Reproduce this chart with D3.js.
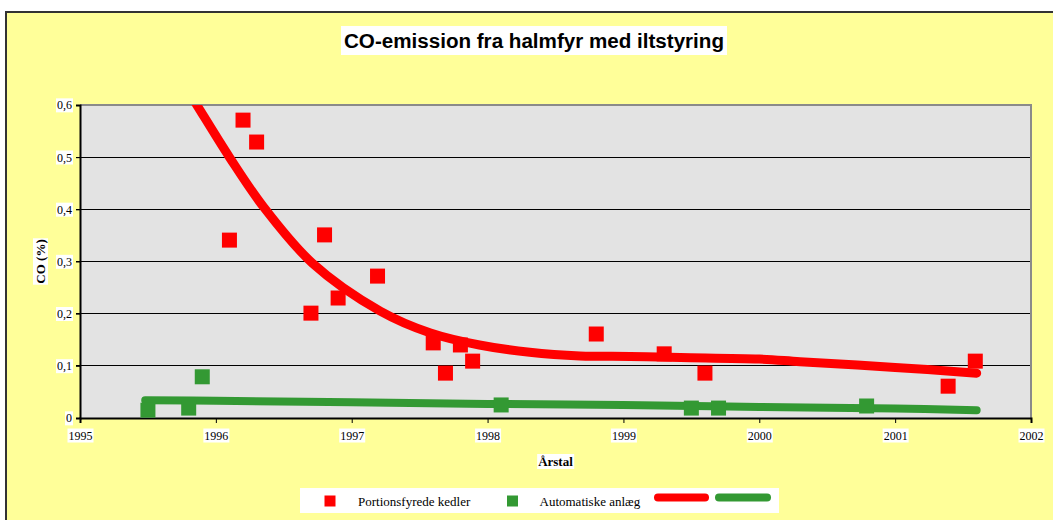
<!DOCTYPE html>
<html><head><meta charset="utf-8">
<script src="https://cdn.jsdelivr.net/npm/d3@7/dist/d3.min.js"></script>
<style>html,body{margin:0;padding:0;background:#fff;}svg{display:block;}</style>
</head><body>
<svg id="chart" width="1053" height="520"></svg>
<script>
// ---- data ----
const titleText = "CO-emission fra halmfyr med iltstyring";
const xLabel = "Årstal";
const yLabel = "CO (%)";
const seriesNames = ["Portionsfyrede kedler", "Automatiske anlæg"];
const xTicks = [1995, 1996, 1997, 1998, 1999, 2000, 2001, 2002];
const yTicks = [0, 0.1, 0.2, 0.3, 0.4, 0.5, 0.6];
const yTickLabels = ["0", "0,1", "0,2", "0,3", "0,4", "0,5", "0,6"];

const portionYears  = [1996.10, 1996.20, 1996.30, 1996.70, 1996.80, 1996.90, 1997.19, 1997.60, 1997.69, 1997.80, 1997.89, 1998.80, 1999.30, 1999.60, 2001.39, 2001.59];
const portionValues = [0.341, 0.571, 0.529, 0.201, 0.351, 0.230, 0.272, 0.144, 0.086, 0.140, 0.109, 0.161, 0.123, 0.086, 0.061, 0.109];

const autoYears  = [1995.50, 1995.80, 1995.90, 1998.10, 1999.50, 1999.70, 2000.79];
const autoValues = [0.015, 0.019, 0.079, 0.025, 0.019, 0.019, 0.023];

// trend lines
const portionTrendYears  = [1995.80, 1995.86, 1996.10, 1996.35, 1996.71, 1997.21, 1997.58, 1997.94, 1998.31, 1998.68, 1999.05, 1999.42, 2000.00, 2000.30, 2001.00, 2001.60];
const portionTrendValues = [0.625, 0.600, 0.500, 0.405, 0.297, 0.205, 0.163, 0.140, 0.126, 0.119, 0.118, 0.116, 0.113, 0.108, 0.097, 0.086];
const autoTrendYears  = [1995.48, 1996.00, 1997.00, 1998.00, 1999.00, 2000.00, 2001.00, 2001.60];
const autoTrendValues = [0.034, 0.033, 0.030, 0.027, 0.025, 0.021, 0.018, 0.015];

// ---- layout ----
const svg = d3.select("#chart");
const W = 1053, H = 520;
const plot = {left: 80, right: 1031, top: 105, bottom: 418};
const RED = "#ff0000", GREEN = "#339933";

const x = d3.scaleLinear().domain([1995, 2002]).range([plot.left, plot.right]);
const y = d3.scaleLinear().domain([0, 0.6]).range([plot.bottom, plot.top]);

// background
svg.append("rect").attr("x", 0).attr("y", 0).attr("width", W).attr("height", H).attr("fill", "#ffffff");
svg.append("rect").attr("x", 6).attr("y", 12).attr("width", W).attr("height", H).attr("fill", "#ffff99");
svg.append("line").attr("x1", 5).attr("x2", W).attr("y1", 12).attr("y2", 12).attr("stroke", "#333").attr("stroke-width", 2);
svg.append("line").attr("x1", 6).attr("x2", 6).attr("y1", 11).attr("y2", H).attr("stroke", "#333").attr("stroke-width", 2);

// title
const tg = svg.append("g");
tg.append("rect").attr("x", 341).attr("y", 26).attr("width", 386).attr("height", 29).attr("fill", "#fff");
tg.append("text").attr("x", 534).attr("y", 47.5).attr("text-anchor", "middle")
  .attr("font-family", "Liberation Sans, Arial, sans-serif").attr("font-weight", "bold")
  .attr("font-size", 20).attr("textLength", 380).attr("lengthAdjust", "spacingAndGlyphs")
  .attr("fill", "#000").text(titleText);

// plot area
svg.append("rect").attr("x", plot.left).attr("y", plot.top).attr("width", plot.right - plot.left)
  .attr("height", plot.bottom - plot.top).attr("fill", "#e3e3e3");

// gridlines
svg.append("g").selectAll("line").data(yTicks.filter(d => d > 0 && d < 0.6)).join("line")
  .attr("x1", plot.left - 4).attr("x2", plot.right).attr("y1", d => y(d)).attr("y2", d => y(d))
  .attr("stroke", "#000").attr("stroke-width", 1).attr("shape-rendering", "crispEdges");

// plot border top/right (gray)
svg.append("path").attr("d", `M${plot.left},${plot.top}H${plot.right}V${plot.bottom}`)
  .attr("fill", "none").attr("stroke", "#8a8a8a").attr("stroke-width", 2);

// axes
const yAxis = d3.axisLeft(y).tickValues(yTicks).tickSize(4).tickFormat((d, i) => yTickLabels[i]);
const gy = svg.append("g").attr("transform", `translate(${plot.left},0)`).style("color", "#000").call(yAxis);
gy.select(".domain").attr("stroke", "#000").attr("stroke-width", 2);
gy.selectAll(".tick line").attr("stroke", "#000");
gy.selectAll(".tick text").attr("font-family", "Liberation Serif, Times New Roman, serif").attr("font-size", 12)
  .attr("fill", "#000").attr("x", -8);

const xAxis = d3.axisBottom(x).tickValues(xTicks).tickSize(5).tickFormat(d3.format("d"));
const gx = svg.append("g").attr("transform", `translate(0,${plot.bottom})`).style("color", "#000").call(xAxis);
gx.select(".domain").attr("stroke", "#000").attr("stroke-width", 2);
gx.selectAll(".tick line").attr("stroke", "#000");
gx.selectAll(".tick text").attr("font-family", "Liberation Serif, Times New Roman, serif").attr("font-size", 12)
  .attr("fill", "#000").attr("y", 13);

// white backgrounds behind tick labels
function addBg(sel) {
  sel.each(function() {
    const b = this.getBBox();
    d3.select(this.parentNode).insert("rect", "text")
      .attr("x", b.x - 1).attr("y", b.y).attr("width", b.width + 2).attr("height", b.height).attr("fill", "#fff");
  });
}
addBg(gy.selectAll(".tick text"));
addBg(gx.selectAll(".tick text"));

// axis titles
const xl = svg.append("text").attr("x", (plot.left + plot.right) / 2).attr("y", 466).attr("text-anchor", "middle")
  .attr("font-family", "Liberation Serif, Times New Roman, serif").attr("font-weight", "bold").attr("font-size", 13)
  .attr("fill", "#000").text(xLabel);
const yl = svg.append("text").attr("transform", `translate(45,${(plot.top + plot.bottom) / 2}) rotate(-90)`)
  .attr("text-anchor", "middle")
  .attr("font-family", "Liberation Serif, Times New Roman, serif").attr("font-weight", "bold").attr("font-size", 13)
  .attr("fill", "#000").text(yLabel);
[xl, yl].forEach(t => {
  const b = t.node().getBBox();
  svg.insert("rect", () => t.node()).attr("x", b.x - 1).attr("y", b.y).attr("width", b.width + 2).attr("height", b.height)
    .attr("fill", "#fff").attr("transform", t.attr("transform"));
});

// clip
svg.append("clipPath").attr("id", "clip").append("rect")
  .attr("x", plot.left).attr("y", plot.top).attr("width", plot.right - plot.left).attr("height", plot.bottom - plot.top);

const line = d3.line().x(d => x(d[0])).y(d => y(d[1])).curve(d3.curveCatmullRom.alpha(0.5));
const pTrend = portionTrendYears.map((d, i) => [d, portionTrendValues[i]]);
const aTrend = autoTrendYears.map((d, i) => [d, autoTrendValues[i]]);

const lines = svg.append("g").attr("clip-path", "url(#clip)");
lines.append("path").datum(aTrend).attr("d", line).attr("fill", "none").attr("stroke", GREEN)
  .attr("stroke-width", 8).attr("stroke-linecap", "round").attr("stroke-linejoin", "round");
lines.append("path").datum(pTrend).attr("d", line).attr("fill", "none").attr("stroke", RED)
  .attr("stroke-width", 9).attr("stroke-linecap", "round").attr("stroke-linejoin", "round");

// markers
const S = 15;
svg.append("g").selectAll("rect").data(autoYears.map((d, i) => [d, autoValues[i]])).join("rect")
  .attr("x", d => x(d[0]) - S / 2).attr("y", d => y(d[1]) - S / 2).attr("width", S).attr("height", S).attr("fill", GREEN);
svg.append("g").selectAll("rect").data(portionYears.map((d, i) => [d, portionValues[i]])).join("rect")
  .attr("x", d => x(d[0]) - S / 2).attr("y", d => y(d[1]) - S / 2).attr("width", S).attr("height", S).attr("fill", RED);

// legend
const lg = svg.append("g");
lg.append("rect").attr("x", 300).attr("y", 488).attr("width", 479).attr("height", 25).attr("fill", "#fff");
const lf = "Liberation Serif, Times New Roman, serif";
lg.append("rect").attr("x", 324.5).attr("y", 495.5).attr("width", 11).attr("height", 11).attr("fill", RED);
lg.append("text").attr("x", 358).attr("y", 505.5).attr("font-family", lf).attr("font-size", 13).attr("fill", "#000").text(seriesNames[0]);
lg.append("rect").attr("x", 507).attr("y", 495.5).attr("width", 11).attr("height", 11).attr("fill", GREEN);
lg.append("text").attr("x", 539.5).attr("y", 505.5).attr("font-family", lf).attr("font-size", 13).attr("fill", "#000").text(seriesNames[1]);
lg.append("line").attr("x1", 658).attr("x2", 705).attr("y1", 497.5).attr("y2", 497.5).attr("stroke", RED)
  .attr("stroke-width", 8).attr("stroke-linecap", "round");
lg.append("line").attr("x1", 719).attr("x2", 767).attr("y1", 497.5).attr("y2", 497.5).attr("stroke", GREEN)
  .attr("stroke-width", 8).attr("stroke-linecap", "round");
</script>
</body></html>
